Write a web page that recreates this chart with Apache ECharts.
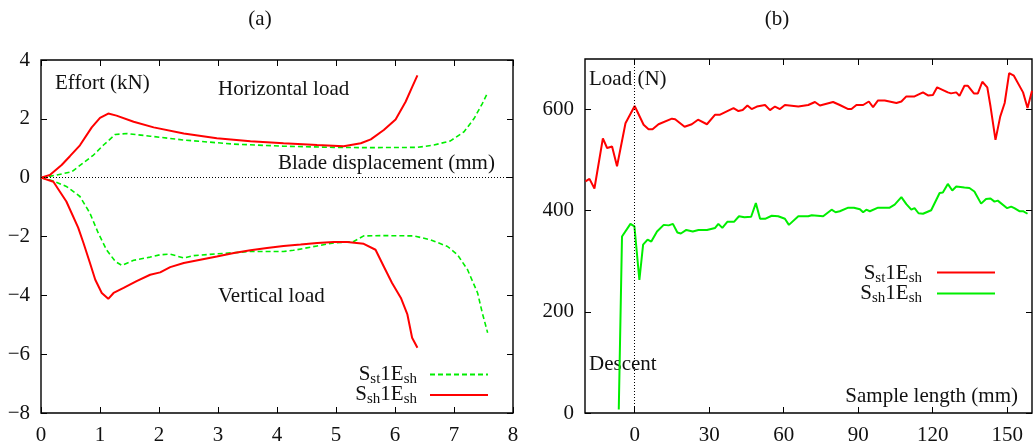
<!DOCTYPE html>
<html>
<head>
<meta charset="utf-8">
<script src="https://cdn.jsdelivr.net/npm/echarts@6/dist/echarts.min.js"></script>
<style>
html, body { margin: 0; padding: 0; background: #fff; }
#chart { width: 1035px; height: 446px; }
</style>
</head>
<body>
<div id="chart"></div>
<script>
// (a) effort vs blade displacement, [mm, kN]
var horizSh = [[0,0],[0.15,0.09],[0.35,0.43],[0.49,0.73],[0.66,1.1],[0.86,1.71],[1.0,2.03],[1.14,2.18],
    [1.28,2.11],[1.57,1.9],[1.91,1.71],[2.42,1.5],[2.98,1.34],[3.55,1.24],[4.11,1.17],[4.68,1.11],
    [5.13,1.07],[5.42,1.17],[5.59,1.3],[5.81,1.62],[6.01,1.98],[6.18,2.58],[6.29,3.08],[6.38,3.48]];
var horizSt = [[0,0],[0.27,0.09],[0.52,0.2],[0.71,0.49],[0.89,0.77],[1.06,1.11],[1.26,1.47],[1.46,1.5],
    [1.85,1.41],[2.42,1.28],[3.27,1.14],[4.11,1.07],[4.96,1.03],[5.53,1.02],[6.38,1.03],[6.66,1.11],
    [6.94,1.25],[7.17,1.56],[7.34,2.01],[7.48,2.52],[7.57,2.89]];
var vertSh = [[0,0],[0.21,-0.14],[0.43,-0.81],[0.63,-1.7],[0.72,-2.22],[0.83,-2.9],[0.92,-3.47],
    [1.03,-3.92],[1.14,-4.12],[1.23,-3.92],[1.4,-3.75],[1.62,-3.52],[1.85,-3.3],[2.02,-3.22],
    [2.19,-3.04],[2.42,-2.9],[2.7,-2.79],[2.98,-2.68],[3.27,-2.56],[3.55,-2.47],[3.83,-2.39],
    [4.11,-2.32],[4.4,-2.27],[4.68,-2.22],[4.96,-2.19],[5.19,-2.19],[5.47,-2.25],[5.67,-2.45],
    [5.81,-3.02],[5.95,-3.58],[6.1,-4.09],[6.21,-4.65],[6.29,-5.44],[6.38,-5.78]];
var vertSt = [[0,0],[0.21,-0.11],[0.44,-0.31],[0.66,-0.64],[0.83,-1.21],[0.97,-1.88],[1.11,-2.45],
    [1.26,-2.85],[1.37,-2.98],[1.57,-2.81],[1.85,-2.7],[2.02,-2.62],[2.19,-2.6],[2.42,-2.73],
    [2.59,-2.65],[2.98,-2.59],[3.55,-2.51],[4.11,-2.51],[4.28,-2.47],[4.68,-2.32],[4.96,-2.22],
    [5.3,-2.17],[5.47,-1.98],[5.81,-1.97],[6.32,-1.98],[6.6,-2.11],[6.89,-2.34],[7.06,-2.62],
    [7.23,-3.13],[7.4,-3.92],[7.48,-4.6],[7.57,-5.27]];

// (b) load vs sample length, [mm, N]
var loadSt = [[-19.8,458],[-18.2,463],[-16.2,444],[-12.8,543],[-11.1,524],[-9.1,527],[-7.1,488],
    [-3.7,573],[0,607],[3.6,570],[5.6,561],[7.2,561],[9.6,571],[15,582],[16.3,581],[20.1,566],
    [23,571],[25.5,580],[29.1,571],[32.4,590],[34.4,590],[39.8,603],[41.8,597],[43.5,599],
    [45.4,608],[47.1,601],[49.2,606],[52.5,609],[54.5,599],[56.5,606],[58.5,601],[60.5,609],
    [65.9,606],[69.9,609],[72.6,615],[74.6,608],[79.9,615],[82.6,609],[86,601],[87.3,601],
    [89.3,609],[92,609],[94.3,616],[96,605],[98,618],[100.7,618],[105.4,613],[107.4,616],
    [109.4,626],[112.7,626],[116.1,634],[118.1,628],[120.1,629],[121.8,644],[126.1,634],
    [127.4,632],[129.5,634],[130.8,627],[132.8,647],[134.2,647],[136.6,632],[138.2,632],
    [140,655],[142,644],[143.3,606],[145.3,540],[147.2,586],[149,613],[150.8,672],[152.7,667],
    [156.4,634],[158.2,603],[160,637]];
var loadSh = [[-6.4,7],[-5.1,349],[-1.7,374],[-0.1,369],[1.9,263],[3.4,333],[5.2,343],[6.7,339],
    [9,359],[11.7,372],[13.7,371],[15.4,374],[17.2,357],[18.6,355],[20.8,362],[23.4,359],
    [25.7,362],[29.1,362],[32.4,366],[33.7,374],[35.3,366],[37.3,378],[40,378],[42,389],
    [44.2,387],[46.9,388],[48.8,415],[50.5,384],[52.5,384],[55.2,390],[57.8,389],[60.5,384],
    [62.1,372],[65.9,389],[69.9,389],[71.3,391],[75.9,389],[79.3,402],[80.9,397],[82.6,399],
    [86,406],[88.3,406],[90.7,403],[92,397],[93.3,402],[94.7,399],[98,406],[102.7,406],
    [104.7,412],[107.4,427],[109.4,413],[111.4,402],[112.7,405],[114.3,395],[116.1,394],
    [119.4,401],[122.8,435],[124.1,436],[126.1,453],[127.9,440],[129.5,448],[132.8,446],
    [134.8,445],[136.8,438],[139.5,414],[141.5,423],[143.3,424],[144.9,418],[146.2,420],
    [150,405],[151.6,408],[152.9,405],[154.9,399],[156.4,399],[158.2,394]];

var leftXTicks = [0, 1, 2, 3, 4, 5, 6, 7, 8];
var leftYTicks = [-8, -6, -4, -2, 0, 2, 4];
var rightXTicks = [0, 30, 60, 90, 120, 150];
var rightYTicks = [0, 200, 400, 600];

var FONT = 'Liberation Serif';
var RED = '#ff0000', GREEN = '#00ee00';

var tickStyle = { inside: true, length: 6, lineStyle: { color: '#000', width: 1 } };
function lbl(show, vals, margin) {
    return {
        show: show, customValues: vals, margin: margin, color: '#111',
        fontFamily: FONT, fontSize: 21,
        formatter: function (v) { return String(v).replace('-', '\u2212'); }
    };
}
function axis(kind, grid, pos, min, max, vals, showLabel) {
    return {
        type: 'value', gridIndex: grid, position: pos, min: min, max: max,
        axisLine: { show: false, onZero: false }, splitLine: { show: false },
        axisTick: Object.assign({ customValues: vals }, tickStyle),
        axisLabel: lbl(showLabel, vals, kind === 'x' ? 12 : 11)
    };
}
var richSub = {
    m: { fontFamily: FONT, fontSize: 21, lineHeight: 26, fill: '#111' },
    s: { fontFamily: FONT, fontSize: 15, lineHeight: 15, verticalAlign: 'bottom', fill: '#111' }
};
function txt(x, y, s, align, rich) {
    var st = { x: x, y: y, text: s, align: align || 'left', verticalAlign: 'middle',
        fontFamily: FONT, fontSize: 21, fill: '#111' };
    if (rich) st.rich = richSub;
    return { type: 'text', silent: true, style: st };
}
function sample(x1, x2, y, color, dash) {
    return { type: 'line', silent: true, shape: { x1: x1, y1: y, x2: x2, y2: y },
        style: { stroke: color, lineWidth: 2, lineDash: dash || null } };
}
var ST = '{m|S}{s|st}{m|1E}{s|sh}', SH = '{m|S}{s|sh}{m|1E}{s|sh}';

function line(name, data, xi, yi, color, dashed, mark) {
    var s = {
        name: name, type: 'line', data: data, xAxisIndex: xi, yAxisIndex: yi,
        symbol: 'none', smooth: false, silent: true,
        lineStyle: { color: color, width: dashed ? 1.6 : 2, type: dashed ? [5, 3] : 'solid' }
    };
    if (mark) {
        s.markLine = { silent: true, symbol: ['none', 'none'], label: { show: false },
            lineStyle: { color: '#000', width: 1, type: [1, 2] }, data: [mark] };
    }
    return s;
}

var chart = echarts.init(document.getElementById('chart'));
chart.setOption({
    animation: false,
    backgroundColor: '#fff',
    grid: [
        { left: 41, right: 522, top: 60, bottom: 32, show: true, borderColor: '#000', borderWidth: 1.4 },
        { left: 585, right: 3, top: 59, bottom: 32, show: true, borderColor: '#000', borderWidth: 1.4 }
    ],
    xAxis: [
        axis('x', 0, 'bottom', 0, 8, leftXTicks, true),
        axis('x', 0, 'top', 0, 8, leftXTicks, false),
        axis('x', 1, 'bottom', -20, 160, rightXTicks, true),
        axis('x', 1, 'top', -20, 160, rightXTicks, false)
    ],
    yAxis: [
        axis('y', 0, 'left', -8, 4, leftYTicks, true),
        axis('y', 0, 'right', -8, 4, leftYTicks, false),
        axis('y', 1, 'left', 0, 700, rightYTicks, true),
        axis('y', 1, 'right', 0, 700, rightYTicks, false)
    ],
    series: [
        line('a_st_h', horizSt, 0, 0, GREEN, true, { yAxis: 0 }),
        line('a_st_v', vertSt, 0, 0, GREEN, true),
        line('a_sh_h', horizSh, 0, 0, RED, false),
        line('a_sh_v', vertSh, 0, 0, RED, false),
        line('b_st', loadSt, 2, 2, RED, false, { xAxis: 0 }),
        line('b_sh', loadSh, 2, 2, GREEN, false)
    ],
    graphic: [
        txt(260, 19, '(a)', 'center'),
        txt(777, 19, '(b)', 'center'),
        txt(55, 83, 'Effort (kN)'),
        txt(218, 89, 'Horizontal load'),
        txt(278, 163, 'Blade displacement (mm)'),
        txt(218, 296, 'Vertical load'),
        txt(417, 374, ST, 'right', true),
        txt(417, 394, SH, 'right', true),
        sample(430, 488, 374.5, GREEN, [5, 3]),
        sample(430, 488, 395, RED),
        txt(589, 79, 'Load (N)'),
        txt(589, 364, 'Descent'),
        txt(1018, 396, 'Sample length (mm)', 'right'),
        txt(922, 273, ST, 'right', true),
        txt(922, 293, SH, 'right', true),
        sample(937, 995, 272.5, RED),
        sample(937, 995, 293.5, GREEN)
    ]
});
</script>
</body>
</html>
